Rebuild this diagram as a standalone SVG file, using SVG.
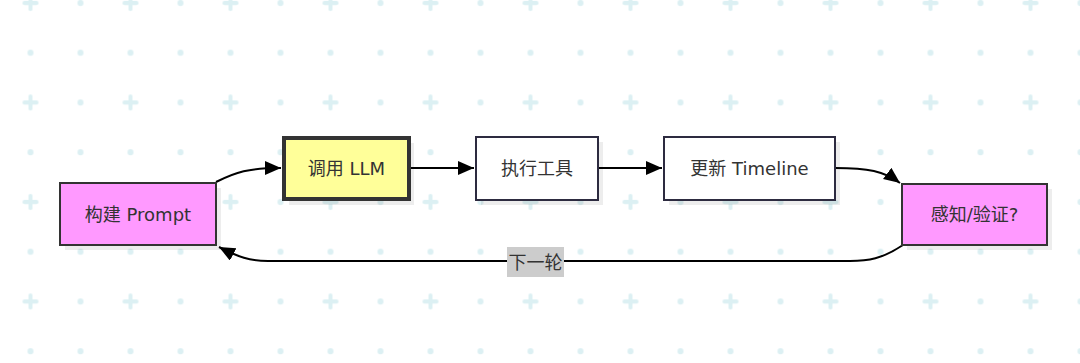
<svg xmlns="http://www.w3.org/2000/svg" width="1080" height="363" viewBox="0 0 1080 363">
  <defs>
    <pattern id="grid" patternUnits="userSpaceOnUse" x="5.5" y="-22" width="100" height="99.5">
      <rect x="17" y="23" width="16" height="4" rx="2" fill="#dcf0f3"/>
      <rect x="23" y="17" width="4" height="16" rx="2" fill="#dcf0f3"/>
      <circle cx="75" cy="25" r="3" fill="#dcf0f3"/>
      <circle cx="25" cy="74.75" r="3" fill="#dcf0f3"/>
      <circle cx="75" cy="74.75" r="3" fill="#dcf0f3"/>
    </pattern>
    <marker id="arrow" markerUnits="userSpaceOnUse" markerWidth="18" markerHeight="16" refX="16" refY="7" orient="auto">
      <path d="M0,0 L16,7 L0,14 Z" fill="#000"/>
    </marker>
    <style>
      .lbl { font-family: "DejaVu Sans", "Noto Sans CJK SC", sans-serif; font-size: 18px; fill: #333; text-anchor: middle; dominant-baseline: central; }
      .shadow { fill: #000; fill-opacity: 0.07; }
      .pink { fill: #ff99ff; stroke: #333; stroke-width: 2; }
      .plain { fill: #fff; stroke: #2d2b40; stroke-width: 2; }
      .llm { fill: #ffff99; stroke: #333; stroke-width: 4; }
      .edge { fill: none; stroke: #000; stroke-width: 2; }
    </style>
  </defs>
  <rect width="1080" height="363" fill="#fff"/>
  <rect width="1080" height="363" fill="url(#grid)"/>

  <g id="connectors">
    <path class="edge" d="M216,182 C236,172 248,168 281,168" marker-end="url(#arrow)"/>
    <path class="edge" d="M411,168 L474,168" marker-end="url(#arrow)"/>
    <path class="edge" d="M598,168 L662,168" marker-end="url(#arrow)"/>
    <path class="edge" d="M835,168 C868,168 884,171 900,183" marker-end="url(#arrow)"/>
    <path class="edge" d="M903,245 C882,259 868,261 850,261 L268,261 C250,261 238,257 219,247" marker-end="url(#arrow)"/>
    <g id="edge-label">
      <rect x="507" y="247" width="57" height="30" fill="#cccccc"/>
      <text class="lbl" x="535.5" y="262">下一轮</text>
    </g>
  </g>

  <g id="node-prompt">
    <rect class="shadow" x="65" y="188" width="156" height="62"/>
    <rect class="pink" x="60" y="183" width="156" height="62"/>
    <text class="lbl" x="138" y="214">构建 Prompt</text>
  </g>
  <g id="node-llm">
    <rect class="shadow" x="289" y="143" width="125" height="62"/>
    <rect class="llm" x="284" y="138" width="125" height="61"/>
    <text class="lbl" x="346.5" y="168">调用 LLM</text>
  </g>
  <g id="node-exec">
    <rect class="shadow" x="481" y="142" width="122" height="63"/>
    <rect class="plain" x="476" y="137" width="122" height="63"/>
    <text class="lbl" x="537" y="168">执行工具</text>
  </g>
  <g id="node-timeline">
    <rect class="shadow" x="669" y="142" width="171" height="63"/>
    <rect class="plain" x="664" y="137" width="171" height="63"/>
    <text class="lbl" x="749.5" y="168">更新 Timeline</text>
  </g>
  <g id="node-verify">
    <rect class="shadow" x="907" y="189" width="145" height="61"/>
    <rect class="pink" x="902" y="184" width="145" height="61"/>
    <text class="lbl" x="974.5" y="214">感知/验证?</text>
  </g>
</svg>
